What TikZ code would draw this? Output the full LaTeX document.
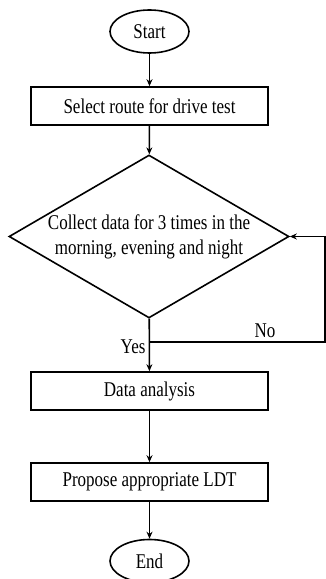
\documentclass[tikz,border=0pt]{standalone}
\usepackage{fontspec}
\setmainfont{Liberation Serif}[FakeStretch=0.81]
\usetikzlibrary{shapes.geometric,arrows.meta}

\tikzset{
  term/.style={draw, ellipse, line width=1.6pt, minimum width=79pt, minimum height=43pt, inner sep=0pt},
  stepbox/.style={draw, rectangle, line width=1.6pt, minimum width=237pt, minimum height=38pt, inner sep=0pt},
  decide/.style={draw, diamond, line width=1.6pt, minimum width=280pt, minimum height=163pt, aspect=1.72, inner sep=0pt, align=center},
  flow/.style={-{Stealth[length=7pt,width=6pt]}, line width=1.6pt},
}

\begin{document}
\begin{tikzpicture}[x=1pt, y=1pt, font=\fontsize{21}{25}\selectfont]
            \useasboundingbox (0,0) rectangle (326,579);
            \node[term] (start) at (149.5,547.5) {Start};
            \node[stepbox] (route) at (149.5,473) {Select route for drive test};
            \node[decide] (collect) at (149,342.5) {Collect data for 3 times in the\\morning, evening and night};
            \node[stepbox] (analysis) at (149.5,188) {Data analysis};
            \node[stepbox] (propose) at (149.5,97) {Propose appropriate LDT};
            \node[term] (end) at (149.5,18) {End};
            \coordinate (split) at (149,237);
            \coordinate (back) at (325,237);
            \draw[flow] (start) -- (route);
            \draw[flow] (route) -- (collect);
            \draw[flow] (collect) -- (analysis);
            \draw[flow] (analysis) -- (propose);
            \draw[flow] (propose) -- (end);
            \draw[flow] (split) -- (back) |- (collect.east);
            \node[left] (yes) at (149,232) {Yes};
            \node[above] (no) at (265,238) {No};
        \end{tikzpicture}
\end{document}
